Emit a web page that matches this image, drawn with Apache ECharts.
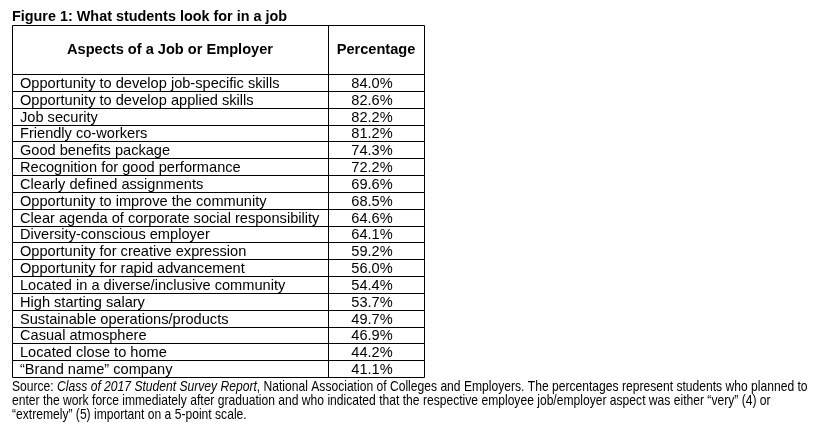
<!DOCTYPE html>
<html>
<head>
<meta charset="utf-8">
<script src="https://cdn.jsdelivr.net/npm/echarts@6/dist/echarts.min.js"></script>
<style>
  html, body { margin: 0; padding: 0; background: #fff; }
  #main { width: 817px; height: 434px; }
</style>
</head>
<body>
<div id="main"></div>
<script>
// table content
var aspects = [
  'Opportunity to develop job-specific skills',
  'Opportunity to develop applied skills',
  'Job security',
  'Friendly co-workers',
  'Good benefits package',
  'Recognition for good performance',
  'Clearly defined assignments',
  'Opportunity to improve the community',
  'Clear agenda of corporate social responsibility',
  'Diversity-conscious employer',
  'Opportunity for creative expression',
  'Opportunity for rapid advancement',
  'Located in a diverse/inclusive community',
  'High starting salary',
  'Sustainable operations/products',
  'Casual atmosphere',
  'Located close to home',
  '\u201cBrand name\u201d company'
];
var percentages = [84.0, 82.6, 82.2, 81.2, 74.3, 72.2, 69.6, 68.5, 64.6, 64.1, 59.2, 56.0, 54.4, 53.7, 49.7, 46.9, 44.2, 41.1];
var headers = ['Aspects of a Job or Employer', 'Percentage'];
var titleText = 'Figure 1: What students look for in a job';

var FONT = 'Arial, "Liberation Sans", sans-serif';
var FS = 14.6;

var tableLeft = 12, tableRight = 424, divider = 328;
var headTop = 25, headBottom = 74, tableBottom = 377;

var myChart = echarts.init(document.getElementById('main'), null, { renderer: 'canvas' });

function px(v) { return Math.round(v + 1e-6) + 0.5; }

myChart.setOption({
  animation: false,
  title: {
    text: titleText,
    left: 7,
    top: 5,
    textStyle: { fontFamily: FONT, fontSize: 14.4, fontWeight: 'bold', color: '#000' }
  },
  grid: { left: tableLeft, right: 817 - tableRight, top: headBottom, bottom: 434 - tableBottom },
  xAxis: { type: 'value', min: 0, max: 1, show: false },
  yAxis: { type: 'category', data: aspects, inverse: true, show: false },
  series: [{
    type: 'custom',
    coordinateSystem: 'cartesian2d',
    data: percentages.map(function (v, i) { return [0, i, v]; }),
    encode: { x: 0, y: 1 },
    renderItem: function (params, api) {
      var idx = api.value(1);
      var c = api.coord([0, idx]);
      var h = api.size([0, 1])[1];
      var y0 = px(c[1] - h / 2), y1 = px(c[1] + h / 2);
      var cy = (y0 + y1) / 2;
      var ls = { stroke: '#000', lineWidth: 1 };
      return {
        type: 'group',
        children: [
          { type: 'line', shape: { x1: px(tableLeft), y1: y1, x2: px(tableRight), y2: y1 }, style: ls },
          { type: 'line', shape: { x1: px(tableLeft), y1: y0, x2: px(tableLeft), y2: y1 }, style: ls },
          { type: 'line', shape: { x1: px(divider), y1: y0, x2: px(divider), y2: y1 }, style: ls },
          { type: 'line', shape: { x1: px(tableRight), y1: y0, x2: px(tableRight), y2: y1 }, style: ls },
          { type: 'text', style: { text: aspects[idx], x: 20, y: cy + 0.5, verticalAlign: 'middle', align: 'left', font: FS + 'px ' + FONT, fill: '#000' } },
          { type: 'text', style: { text: api.value(2).toFixed(1) + '%', x: 372, y: cy + 0.5, verticalAlign: 'middle', align: 'center', font: FS + 'px ' + FONT, fill: '#000' } }
        ]
      };
    }
  }],
  graphic: [
    { type: 'rect', shape: { x: px(tableLeft), y: px(headTop), width: divider - tableLeft, height: headBottom - headTop }, style: { fill: null, stroke: '#000', lineWidth: 1 } },
    { type: 'rect', shape: { x: px(divider), y: px(headTop), width: tableRight - divider, height: headBottom - headTop }, style: { fill: null, stroke: '#000', lineWidth: 1 } },
    { type: 'text', x: (tableLeft + divider) / 2, y: (headTop + headBottom) / 2, style: { text: headers[0], align: 'center', verticalAlign: 'middle', font: 'bold ' + FS + 'px ' + FONT, fill: '#000' } },
    { type: 'text', x: (divider + tableRight) / 2, y: (headTop + headBottom) / 2, style: { text: headers[1], align: 'center', verticalAlign: 'middle', font: 'bold ' + FS + 'px ' + FONT, fill: '#000' } },
    {
      // narrow footnote: regular face squeezed horizontally
      type: 'text', x: 12, y: 380, scaleX: 0.829,
      style: {
        text: '{n|Source: }{i|Class of 2017 Student Survey Report}{n|, National Association of Colleges and Employers. The percentages represent students who planned to}\n' +
              '{n|enter the work force immediately after graduation and who indicated that the respective employee job/employer aspect was either \u201cvery\u201d (4) or}\n' +
              '{n|\u201cextremely\u201d (5) important on a 5-point scale.}',
        rich: {
          n: { fontFamily: FONT, fontSize: 14.6, fill: '#000', lineHeight: 14 },
          i: { fontFamily: FONT, fontSize: 14.6, fontStyle: 'italic', fill: '#000', lineHeight: 14 }
        }
      }
    }
  ]
});
</script>
</body>
</html>
